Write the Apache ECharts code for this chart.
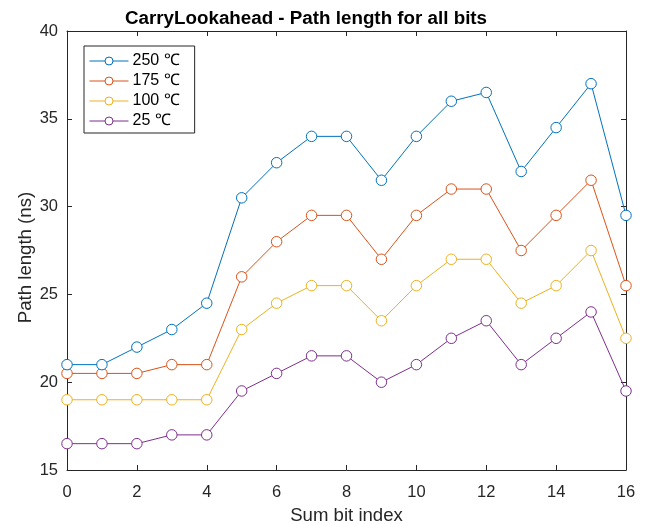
<!DOCTYPE html>
<html>
<head>
<meta charset="utf-8">
<script src="https://cdn.jsdelivr.net/npm/echarts@6/dist/echarts.min.js"></script>
<style>html,body{margin:0;padding:0;background:#fff;}#c{width:652px;height:524px;}</style>
</head>
<body>
<div id="c"></div>
<script>
var bitIndex = [0,1,2,3,4,5,6,7,8,9,10,11,12,13,14,15,16];
var seriesNames = ['250 ℃','175 ℃','100 ℃','25 ℃'];
var t250 = [21,21,22,23,24.5,30.5,32.5,34,34,31.5,34,36,36.5,32,34.5,37,29.5];
var t175 = [20.5,20.5,20.5,21,21,26,28,29.5,29.5,27,29.5,31,31,27.5,29.5,31.5,25.5];
var t100 = [19,19,19,19,19,23,24.5,25.5,25.5,23.5,25.5,27,27,24.5,25.5,27.5,22.5];
var t25 = [16.5,16.5,16.5,17,17,19.5,20.5,21.5,21.5,20,21,22.5,23.5,21,22.5,24,19.5];
var xTicks = [0,2,4,6,8,10,12,14,16];
var yTicks = [15,20,25,30,35,40];

var colors = ['#0072BD','#D95319','#EDB120','#7E2F8E'];
var allData = [t250,t175,t100,t25];
var FONT = '"Liberation Sans", Arial, Helvetica, sans-serif';
var axisColor = '#262626';

function pairs(vals){ return bitIndex.map(function(x,i){ return [x, vals[i]]; }); }

var series = allData.map(function(vals, k){
  return {
    name: seriesNames[k], type: 'line', data: pairs(vals),
    symbol: 'circle', symbolSize: 10.5, showSymbol: true,
    lineStyle: {color: colors[k], width: 1},
    itemStyle: {color: '#fff', borderColor: colors[k], borderWidth: 1},
    emphasis: {disabled: true}, animation: false, z: 10 - k
  };
});

var chart = echarts.init(document.getElementById('c'), null, {renderer: 'canvas'});
chart.setOption({
  animation: false,
  backgroundColor: '#fff',
  color: colors,
  title: {
    text: 'CarryLookahead - Path length for all bits',
    left: 301, top: 4, textAlign: 'center',
    textStyle: {fontFamily: FONT, fontSize: 18.8, fontWeight: 'bold', color: '#000'}
  },
  legend: {
    orient: 'vertical', left: 84, top: 46,
    padding: [7, 15, 4, 5],
    itemGap: 4, itemWidth: 39, itemHeight: 10,
    backgroundColor: '#fff', borderColor: axisColor, borderWidth: 1, borderRadius: 0,
    lineStyle: {width: 1},
    itemStyle: {borderWidth: 1},
    textStyle: {fontFamily: FONT, fontSize: 16, color: '#000', padding: [0,0,0,-1]},
    data: seriesNames
  },
  grid: {left: 67, right: 26, top: 31, bottom: 54, containLabel: false, outerBoundsMode: 'none'},
  xAxis: [{
    type: 'value', min: 0, max: 16, interval: 2,
    name: 'Sum bit index', nameLocation: 'middle', nameGap: 36,
    nameTextStyle: {fontFamily: FONT, fontSize: 18.6, color: axisColor},
    axisLine: {show: true, onZero: false, lineStyle: {color: axisColor, width: 1}},
    axisTick: {show: true, inside: true, length: 5, lineStyle: {color: axisColor}},
    axisLabel: {fontFamily: FONT, fontSize: 16.5, color: axisColor, margin: 14,
      formatter: function(v){ return xTicks.indexOf(v) >= 0 ? String(v) : ''; }},
    splitLine: {show: false}
  }, {
    type: 'value', min: 0, max: 16, interval: 2, position: 'top',
    axisLine: {show: true, onZero: false, lineStyle: {color: axisColor, width: 1}},
    axisTick: {show: true, inside: true, length: 5, lineStyle: {color: axisColor}},
    axisLabel: {show: false}, splitLine: {show: false}
  }],
  yAxis: [{
    type: 'value', min: 15, max: 40, interval: 5,
    name: 'Path length (ns)', nameLocation: 'middle', nameGap: 32, nameRotate: 90,
    nameMoveOverlap: false,
    nameTextStyle: {fontFamily: FONT, fontSize: 18.6, color: axisColor, padding: [0, 14, 0, 0]},
    axisLine: {show: true, onZero: false, lineStyle: {color: axisColor, width: 1}},
    axisTick: {show: true, inside: true, length: 5, lineStyle: {color: axisColor}},
    axisLabel: {fontFamily: FONT, fontSize: 16.5, color: axisColor, margin: 9,
      formatter: function(v){ return yTicks.indexOf(v) >= 0 ? String(v) : ''; }},
    splitLine: {show: false}
  }, {
    type: 'value', min: 15, max: 40, interval: 5, position: 'right',
    axisLine: {show: true, onZero: false, lineStyle: {color: axisColor, width: 1}},
    axisTick: {show: true, inside: true, length: 5, lineStyle: {color: axisColor}},
    axisLabel: {show: false}, splitLine: {show: false}
  }],
  series: series
});
</script>
</body>
</html>
